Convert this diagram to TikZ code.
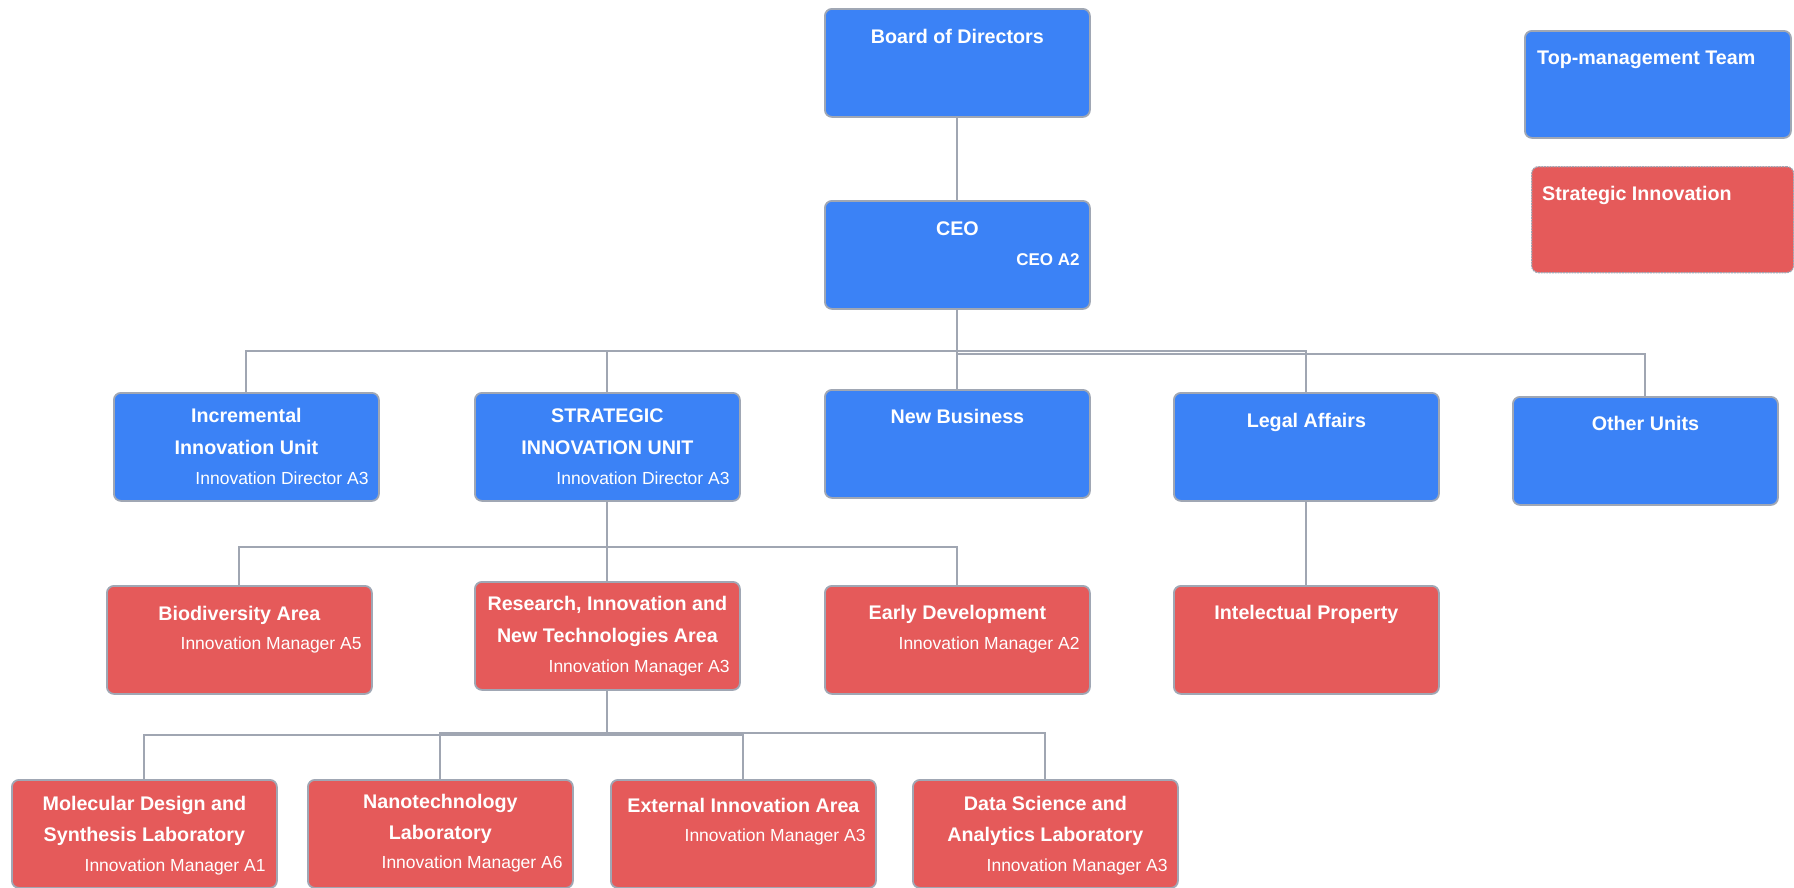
\documentclass[tikz,border=0pt]{standalone}
\usepackage{fontspec}
\setmainfont{Liberation Sans}
\usetikzlibrary{calc}
\definecolor{unitblue}{RGB}{59,130,246}
\definecolor{unitred}{RGB}{229,90,90}
\definecolor{edgegray}{RGB}{160,167,180}
\definecolor{linkgray}{RGB}{160,166,178}
\begin{document}
\begin{tikzpicture}[x=1pt,y=-1pt,
  box/.style={rectangle, rounded corners=7pt, draw=edgegray, line width=1.8pt,
    minimum width=265pt, minimum height=108pt, anchor=north west, inner sep=0pt},
  topbox/.style={box, fill=unitblue},
  innobox/.style={box, fill=unitred},
  ttl/.style={text=white, font=\fontsize{19.7}{22}\selectfont\bfseries, anchor=base, inner sep=0pt},
  ttlleft/.style={ttl, anchor=base west},
  sub/.style={text=white, font=\fontsize{17.5}{20}\selectfont, anchor=base east, inner sep=0pt},
  link/.style={draw=linkgray, line width=2pt}]
\useasboundingbox (0,0) rectangle (1794,887);

% ---- top level ----
\node[topbox] (board) at (824,8) {};
\node[ttl] at ($(board.north)+(0,35)$) {Board of Directors};

\node[topbox] (ceo) at (824,200) {};
\node[ttl] at ($(ceo.north)+(0,35.5)$) {CEO};
\node[sub, font=\fontsize{17}{20}\selectfont\bfseries] at ($(ceo.north east)+(-11,65)$) {CEO A2};

% ---- legend ----
\node[topbox, minimum width=266pt, minimum height=107pt] (lgtop) at (1524,30) {};
\node[ttlleft] at (1537,64) {Top-management Team};

\node[innobox, draw=edgegray, densely dotted, line width=1.3pt,
      minimum width=262pt, minimum height=106pt] (lginno) at (1531,166) {};
\node[ttlleft] at (1542,200) {Strategic Innovation};

% ---- units reporting to the CEO ----
\node[topbox] (inc) at (113,392) {};
\node[ttl] at ($(inc.north)+(0,30)$) {Incremental};
\node[ttl] at ($(inc.north)+(0,62)$) {Innovation Unit};
\node[sub] at ($(inc.north east)+(-11,92)$) {Innovation Director A3};

\node[topbox] (strat) at (474,392) {};
\node[ttl] at ($(strat.north)+(0,30)$) {STRATEGIC};
\node[ttl] at ($(strat.north)+(0,62)$) {INNOVATION UNIT};
\node[sub] at ($(strat.north east)+(-11,92)$) {Innovation Director A3};

\node[topbox] (nb) at (824,389) {};
\node[ttl] at ($(nb.north)+(0,34)$) {New Business};

\node[topbox] (legal) at (1173,392) {};
\node[ttl] at ($(legal.north)+(0,35)$) {Legal Affairs};

\node[topbox] (other) at (1512,396) {};
\node[ttl] at ($(other.north)+(0,34)$) {Other Units};

% ---- areas ----
\node[innobox] (bio) at (106,585) {};
\node[ttl] at ($(bio.north)+(0,35)$) {Biodiversity Area};
\node[sub] at ($(bio.north east)+(-11,64)$) {Innovation Manager A5};

\node[innobox] (rsch) at (474,581) {};
\node[ttl] at ($(rsch.north)+(0,29)$) {Research, Innovation and};
\node[ttl] at ($(rsch.north)+(0,61)$) {New Technologies Area};
\node[sub] at ($(rsch.north east)+(-11,91)$) {Innovation Manager A3};

\node[innobox] (early) at (824,585) {};
\node[ttl] at ($(early.north)+(0,34)$) {Early Development};
\node[sub] at ($(early.north east)+(-11,64)$) {Innovation Manager A2};

\node[innobox] (ip) at (1173,585) {};
\node[ttl] at ($(ip.north)+(0,34)$) {Intelectual Property};

% ---- laboratories ----
\node[innobox] (mol) at (11,779) {};
\node[ttl] at ($(mol.north)+(0,31)$) {Molecular Design and};
\node[ttl] at ($(mol.north)+(0,62)$) {Synthesis Laboratory};
\node[sub] at ($(mol.north east)+(-12,92)$) {Innovation Manager A1};

\node[innobox] (nano) at (307,779) {};
\node[ttl] at ($(nano.north)+(0,29)$) {Nanotechnology};
\node[ttl] at ($(nano.north)+(0,60)$) {Laboratory};
\node[sub] at ($(nano.north east)+(-11,89)$) {Innovation Manager A6};

\node[innobox] (ext) at (610,779) {};
\node[ttl] at ($(ext.north)+(0,33)$) {External Innovation Area};
\node[sub] at ($(ext.north east)+(-11,62)$) {Innovation Manager A3};

\node[innobox] (data) at (912,779) {};
\node[ttl] at ($(data.north)+(0,31)$) {Data Science and};
\node[ttl] at ($(data.north)+(0,62)$) {Analytics Laboratory};
\node[sub] at ($(data.north east)+(-11,92)$) {Innovation Manager A3};

% ---- connectors ----
\draw[link] (board.south) -- (ceo.north);
\draw[link] (ceo.south) -- ++(0,41) -| (inc.north);
\draw[link] (ceo.south) -- ++(0,41) -| (strat.north);
\draw[link] (ceo.south) -- ++(0,41) -| (legal.north);
\draw[link] (ceo.south) -- (nb.north);
\draw[link] (ceo.south) -- ++(0,44) -| (other.north);

\draw[link] (strat.south) -- ++(0,45) -| (bio.north);
\draw[link] (strat.south) -- (rsch.north);
\draw[link] (strat.south) -- ++(0,45) -| (early.north);
\draw[link] (legal.south) -- (ip.north);

\draw[link] (rsch.south) -- ++(0,44) -| (mol.north);
\draw[link] (rsch.south) -- ++(0,42) -| (nano.north);
\draw[link] (rsch.south) -- ++(0,44) -| (ext.north);
\draw[link] (rsch.south) -- ++(0,42) -| (data.north);
\end{tikzpicture}
\end{document}
